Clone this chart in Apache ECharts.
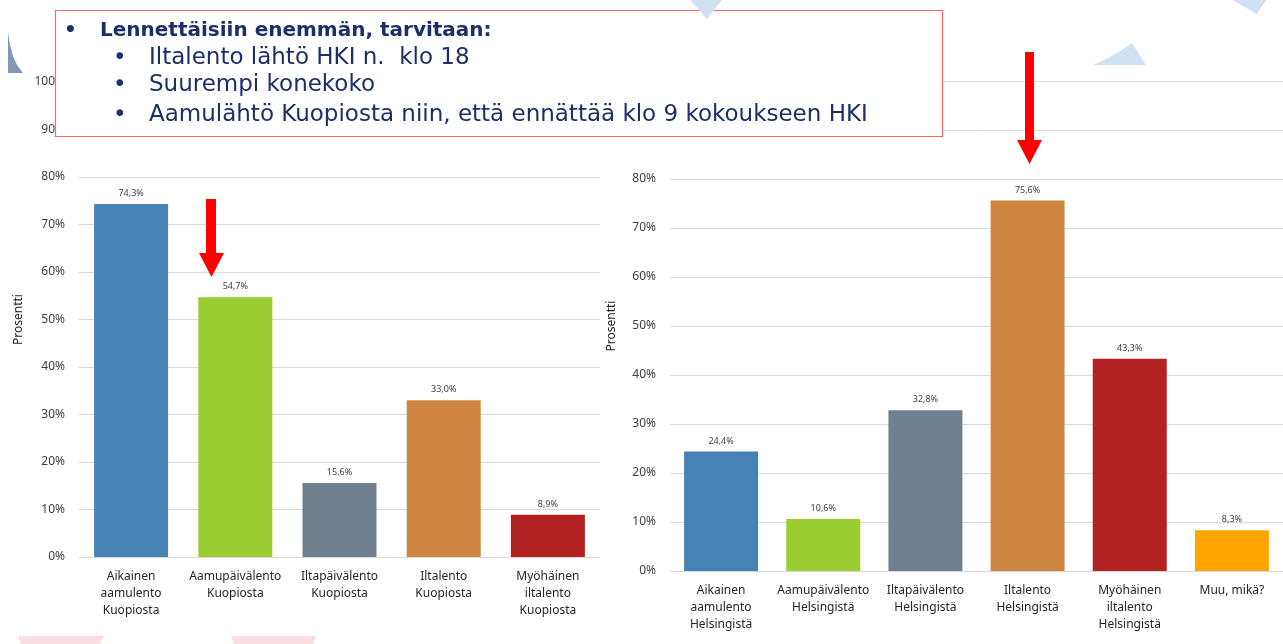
<!DOCTYPE html>
<html>
<head>
<meta charset="utf-8">
<script src="https://cdn.jsdelivr.net/npm/echarts@6/dist/echarts.min.js"></script>
<style>
html,body{margin:0;padding:0;background:#fff;}
#chart{width:1283px;height:644px;}
</style>
</head>
<body>
<div id="chart"></div>
<script>
// ---- data ----
const leftCategories = ["Aikainen\naamulento\nKuopiosta", "Aamupäivälento\nKuopiosta", "Iltapäivälento\nKuopiosta", "Iltalento\nKuopiosta", "Myöhäinen\niltalento\nKuopiosta"];
const leftValues = [74.3, 54.7, 15.6, 33.0, 8.9];
const rightCategories = ["Aikainen\naamulento\nHelsingistä", "Aamupäivälento\nHelsingistä", "Iltapäivälento\nHelsingistä", "Iltalento\nHelsingistä", "Myöhäinen\niltalento\nHelsingistä", "Muu, mikä?"];
const rightValues = [24.4, 10.6, 32.8, 75.6, 43.3, 8.3];
const barColors = ["#4682B4", "#9ACD32", "#708090", "#CD853F", "#B22222", "#FFA500"];
const yMin = 0, yMax = 100, yStep = 10;
const axisTitle = "Prosentti";
const boxTitle = "Lennettäisiin enemmän, tarvitaan:";
const boxItems = ["Iltalento lähtö HKI n.  klo 18", "Suurempi konekoko", "Aamulähtö Kuopiosta niin, että ennättää klo 9 kokoukseen HKI"];

const FONT = "'Noto Sans', 'Open Sans', sans-serif";
const BOXFONT = "'DejaVu Sans', sans-serif";
const chart = echarts.init(document.getElementById('chart'));

function fmt(v){ return v.toFixed(1).replace('.', ',') + '%'; }

function yAxis(gridIndex){
  return {
    type:'value', gridIndex, min:yMin, max:yMax, interval:yStep,
    name: axisTitle, nameLocation:'middle', nameGap: gridIndex === 0 ? 54 : 52, nameRotate: 90,
    nameTextStyle:{fontFamily:FONT, fontSize:12, color:'#262626'},
    axisLine:{show:false}, axisTick:{show:false},
    axisLabel:{formatter:'{value}%', fontFamily:FONT, fontSize:12, color:'#404040', margin:14},
    splitLine:{lineStyle:{color:'#D9D9D9', width:1}}
  };
}
function xAxis(gridIndex, cats){
  return {
    type:'category', gridIndex, data:cats,
    axisLine:{lineStyle:{color:'#D9D9D9', width:1}}, axisTick:{show:false},
    axisLabel:{interval:0, fontFamily:FONT, fontSize:12, color:'#262626', lineHeight:17, margin:11}
  };
}
function series(idx, vals){
  return {
    type:'bar', xAxisIndex:idx, yAxisIndex:idx, barWidth:74,
    data: vals.map((v,i)=>({value:v, itemStyle:{color:barColors[i]}})),
    label:{show:true, position:'top', distance:6, fontFamily:FONT, fontSize:9, color:'#404040', formatter:p=>fmt(p.value)},
    z:2
  };
}

const deco = '#CFE2F3';
const pink = '#F8DDE2';
const navy = '#1C2F66';
const graphics = [
  // background decorations
  {type:'polygon', z:-1, shape:{points:[[8,32],[10,45],[13,56],[17,65],[23,73],[8,73]]}, style:{fill:'#8197B9'}},
  {type:'polygon', z:-1, shape:{points:[[1093,65],[1110,57],[1122,50],[1132,43],[1146,65]]}, style:{fill:deco}},
  {type:'polygon', z:-1, shape:{points:[[1232,0],[1266,0],[1257,14]]}, style:{fill:deco}},
  {type:'polygon', z:-1, shape:{points:[[18,636],[104,636],[100,644],[21,644]]}, style:{fill:pink}},
  {type:'polygon', z:-1, shape:{points:[[231,636],[316,636],[313,644],[234,644]]}, style:{fill:pink}},
  // text box
  {type:'rect', z:100, shape:{x:55.5, y:10.5, width:887, height:126}, style:{fill:'#fff', stroke:'#FF6666', lineWidth:1.2}},
  {type:'polygon', z:101, shape:{points:[[690,0],[722,0],[707,19]]}, style:{fill:deco}},
  {type:'text', z:102, x:64, y:31, style:{text:'•', font:"bold 20px "+BOXFONT, fill:navy, verticalAlign:'middle'}},
  {type:'text', z:102, x:100, y:31, style:{text:boxTitle, font:"bold 20px "+BOXFONT, fill:navy, verticalAlign:'middle'}},
  {type:'text', z:102, x:113, y:58, style:{text:'•', font:"23px "+BOXFONT, fill:navy, verticalAlign:'middle'}},
  {type:'text', z:102, x:149, y:58, style:{text:boxItems[0], font:"23px "+BOXFONT, fill:navy, verticalAlign:'middle'}},
  {type:'text', z:102, x:113, y:85, style:{text:'•', font:"23px "+BOXFONT, fill:navy, verticalAlign:'middle'}},
  {type:'text', z:102, x:149, y:85, style:{text:boxItems[1], font:"23px "+BOXFONT, fill:navy, verticalAlign:'middle'}},
  {type:'text', z:102, x:113, y:115, style:{text:'•', font:"23px "+BOXFONT, fill:navy, verticalAlign:'middle'}},
  {type:'text', z:102, x:149, y:115, style:{text:boxItems[2], font:"23px "+BOXFONT, fill:navy, verticalAlign:'middle'}},
  // arrows
  {type:'polygon', z:103, shape:{points:[[206,199],[216,199],[216,253],[224,253],[211.5,277],[199,253],[206,253]]}, style:{fill:'#FF0000'}},
  {type:'polygon', z:103, shape:{points:[[1025,52],[1034,52],[1034,140],[1042,140],[1029.5,164],[1017,140],[1025,140]]}, style:{fill:'#FF0000'}}
];

chart.setOption({
  backgroundColor:'#fff',
  animation:false,
  grid:[
    {left:79, right:683, top:82, bottom:87, containLabel:false},
    {left:670, right:0, top:81, bottom:73, containLabel:false}
  ],
  xAxis:[xAxis(0, leftCategories), xAxis(1, rightCategories)],
  yAxis:[yAxis(0), yAxis(1)],
  series:[series(0, leftValues), series(1, rightValues)],
  graphic:{elements:graphics}
});
</script>
</body>
</html>
